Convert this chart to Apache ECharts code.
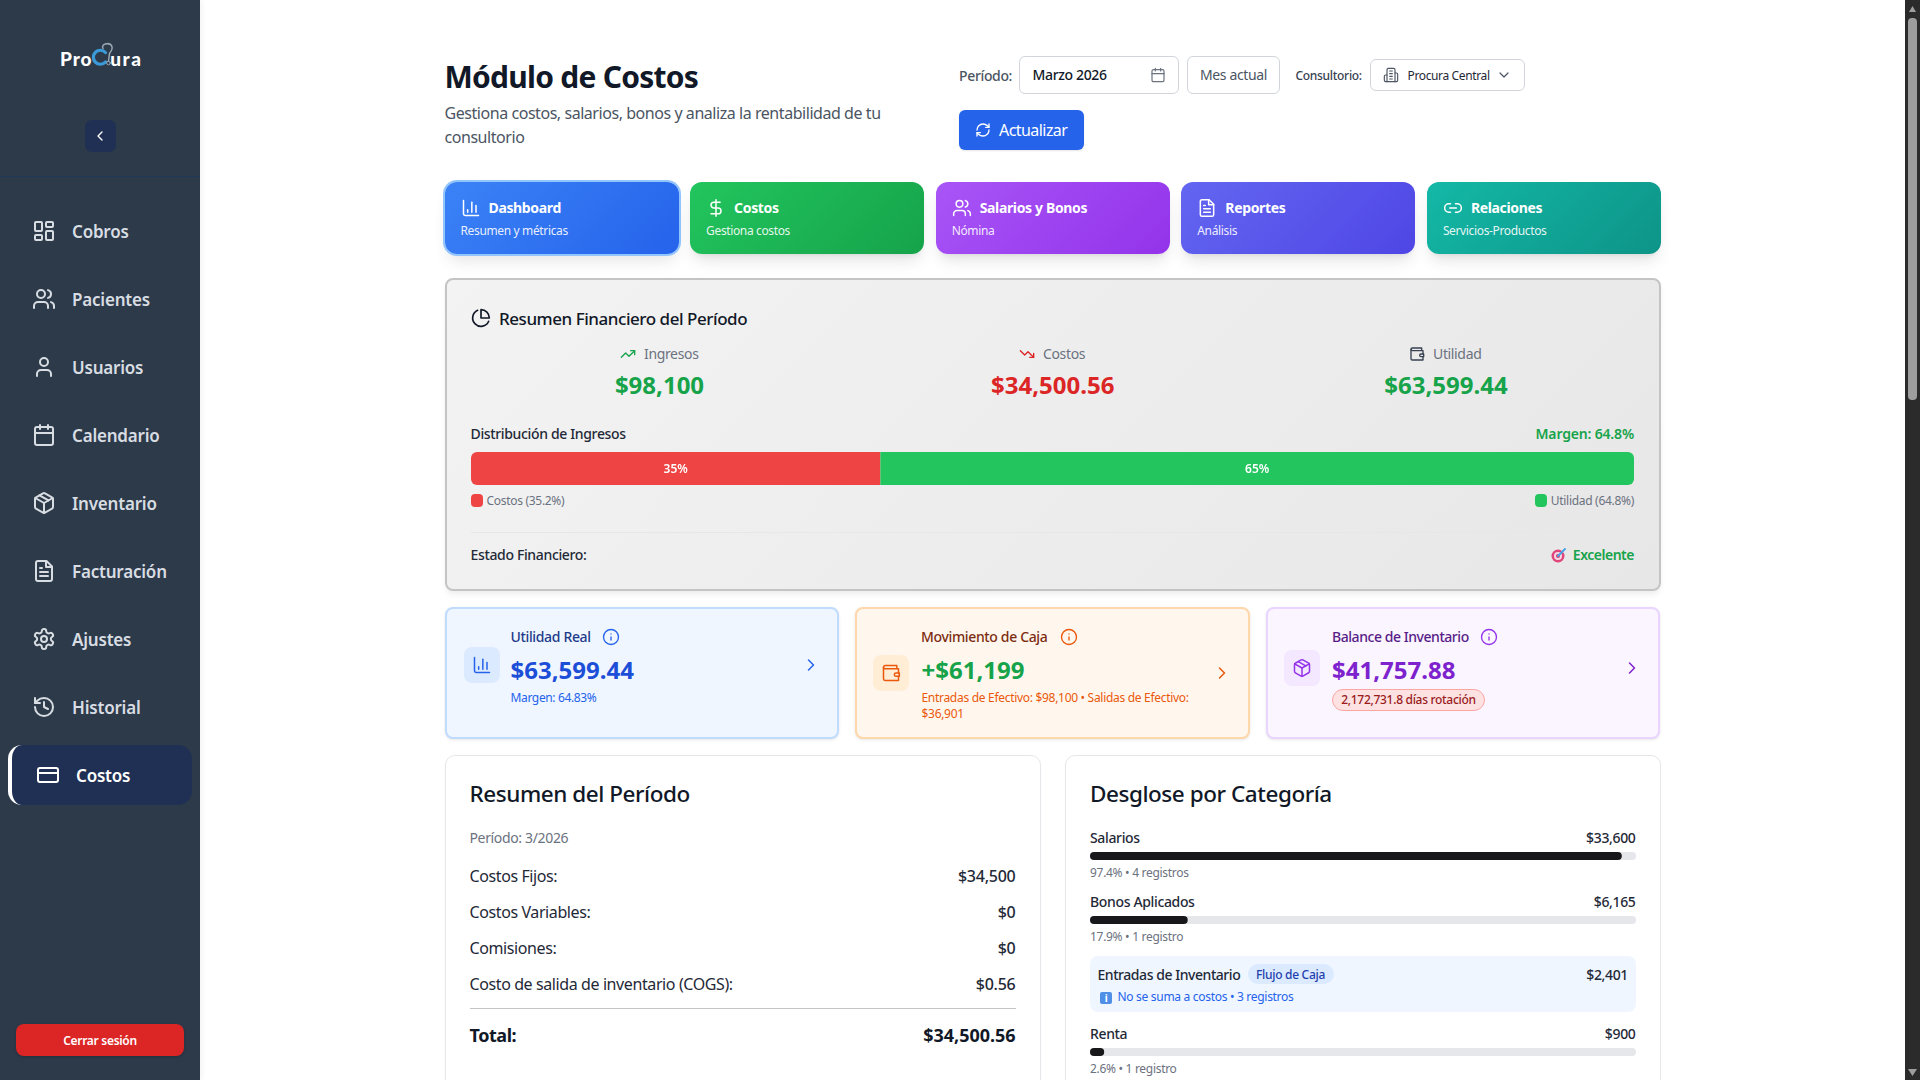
<!DOCTYPE html>
<html lang="es">
<head>
<meta charset="utf-8">
<title>Módulo de Costos</title>
<script src="https://cdn.jsdelivr.net/npm/echarts@6/dist/echarts.min.js"></script>
<style>
html,body{margin:0;padding:0;width:1920px;height:1080px;overflow:hidden;background:#fff;font-family:"Noto Sans",sans-serif;}
#page{position:relative;width:1920px;height:1080px;overflow:hidden;}
.box{position:absolute;box-sizing:border-box;}
.t{position:absolute;white-space:nowrap;line-height:1;letter-spacing:-.025em;transform:translateY(-50%);}
.t.r{transform:translate(-100%,-50%);}
.t.c{transform:translate(-50%,-50%);}
svg.i{position:absolute;fill:none;stroke-linecap:round;stroke-linejoin:round;overflow:visible;}
.tab{border-radius:12px;box-shadow:0 10px 15px -3px rgba(0,0,0,.1),0 4px 6px -4px rgba(0,0,0,.1);}
.kpi{border-radius:8px;border-width:2px;border-style:solid;box-shadow:0 1px 3px rgba(0,0,0,.1);}
.card{background:#fff;border:1.5px solid #e5e7eb;border-radius:10px;box-shadow:0 1px 2px rgba(0,0,0,.04);}
</style>
</head>
<body>
<div id="page"></div>
<script>
var navItems = ["Cobros","Pacientes","Usuarios","Calendario","Inventario","Facturación","Ajustes","Historial"];
var navIcons = ["grid","users","user","calendar","package","file","gear","history"];
var tabTitles = ["Dashboard","Costos","Salarios y Bonos","Reportes","Relaciones"];
var tabSubs = ["Resumen y métricas","Gestiona costos","Nómina","Análisis","Servicios-Productos"];
var tabIcons = ["bars","dollar","users","file","link"];
var tabGradients = [["#3b82f6","#2563eb"],["#22c55e","#16a34a"],["#a855f7","#9333ea"],["#6366f1","#4f46e5"],["#14b8a6","#0d9488"]];
var distLabels = ["Costos","Utilidad"];
var distValues = [35.2,64.8];
var distColors = ["#ef4444","#22c55e"];
var resumenLabels = ["Costos Fijos:","Costos Variables:","Comisiones:","Costo de salida de inventario (COGS):"];
var resumenValues = ["$34,500","$0","$0","$0.56"];
var catLabels = ["Salarios","Bonos Aplicados","Renta"];
var catAmounts = ["$33,600","$6,165","$900"];
var catPercents = [97.4,17.9,2.6];
var catNotes = ["4 registros","1 registro","1 registro"];

var ICONS = {
  grid:'<rect x="3" y="3" width="7" height="9" rx="1"/><rect x="14" y="3" width="7" height="5" rx="1"/><rect x="14" y="12" width="7" height="9" rx="1"/><rect x="3" y="16" width="7" height="5" rx="1"/>',
  users:'<path d="M16 21v-2a4 4 0 0 0-4-4H6a4 4 0 0 0-4 4v2"/><circle cx="9" cy="7" r="4"/><path d="M22 21v-2a4 4 0 0 0-3-3.87"/><path d="M16 3.13a4 4 0 0 1 0 7.75"/>',
  user:'<path d="M19 21v-2a4 4 0 0 0-4-4H9a4 4 0 0 0-4 4v2"/><circle cx="12" cy="7" r="4"/>',
  calendar:'<path d="M8 2v4M16 2v4"/><rect x="3" y="4" width="18" height="18" rx="2"/><path d="M3 10h18"/>',
  package:'<path d="M21 8a2 2 0 0 0-1-1.73l-7-4a2 2 0 0 0-2 0l-7 4A2 2 0 0 0 3 8v8a2 2 0 0 0 1 1.73l7 4a2 2 0 0 0 2 0l7-4A2 2 0 0 0 21 16Z"/><path d="m3.3 7 8.7 5 8.7-5"/><path d="M12 22V12"/><path d="m7.5 4.27 9 5.15"/>',
  file:'<path d="M14.5 2H6a2 2 0 0 0-2 2v16a2 2 0 0 0 2 2h12a2 2 0 0 0 2-2V7.5L14.5 2z"/><path d="M14 2v6h6"/><path d="M16 13H8"/><path d="M16 17H8"/><path d="M10 9H8"/>',
  gear:'<path d="M12.22 2h-.44a2 2 0 0 0-2 2v.18a2 2 0 0 1-1 1.73l-.43.25a2 2 0 0 1-2 0l-.15-.08a2 2 0 0 0-2.73.73l-.22.38a2 2 0 0 0 .73 2.73l.15.1a2 2 0 0 1 1 1.72v.51a2 2 0 0 1-1 1.74l-.15.09a2 2 0 0 0-.73 2.73l.22.38a2 2 0 0 0 2.73.73l.15-.08a2 2 0 0 1 2 0l.43.25a2 2 0 0 1 1 1.73V20a2 2 0 0 0 2 2h.44a2 2 0 0 0 2-2v-.18a2 2 0 0 1 1-1.73l.43-.25a2 2 0 0 1 2 0l.15.08a2 2 0 0 0 2.73-.73l.22-.39a2 2 0 0 0-.73-2.73l-.15-.08a2 2 0 0 1-1-1.74v-.5a2 2 0 0 1 1-1.74l.15-.09a2 2 0 0 0 .73-2.73l-.22-.38a2 2 0 0 0-2.73-.73l-.15.08a2 2 0 0 1-2 0l-.43-.25a2 2 0 0 1-1-1.73V4a2 2 0 0 0-2-2z"/><circle cx="12" cy="12" r="3"/>',
  history:'<path d="M3 12a9 9 0 1 0 9-9 9.75 9.75 0 0 0-6.74 2.74L3 8"/><path d="M3 3v5h5"/><path d="M12 7v5l4 2"/>',
  card:'<rect x="2" y="5" width="20" height="14" rx="2"/><path d="M2 10h20"/>',
  left:'<path d="m15 18-6-6 6-6"/>',
  right:'<path d="m9 18 6-6-6-6"/>',
  down:'<path d="m6 9 6 6 6-6"/>',
  bars:'<path d="M3 3v16a2 2 0 0 0 2 2h16"/><path d="M18 17V9"/><path d="M13 17V5"/><path d="M8 17v-3"/>',
  dollar:'<path d="M12 2v20"/><path d="M17 5H9.5a3.5 3.5 0 0 0 0 7h5a3.5 3.5 0 0 1 0 7H6"/>',
  link:'<path d="M9 17H7A5 5 0 0 1 7 7h2"/><path d="M15 7h2a5 5 0 1 1 0 10h-2"/><path d="M8 12h8"/>',
  refresh:'<path d="M3 12a9 9 0 0 1 9-9 9.75 9.75 0 0 1 6.74 2.74L21 8"/><path d="M21 3v5h-5"/><path d="M21 12a9 9 0 0 1-9 9 9.75 9.75 0 0 1-6.74-2.74L3 16"/><path d="M8 16H3v5"/>',
  building:'<path d="M6 22V4a2 2 0 0 1 2-2h8a2 2 0 0 1 2 2v18Z"/><path d="M6 12H4a2 2 0 0 0-2 2v6a2 2 0 0 0 2 2h2"/><path d="M18 9h2a2 2 0 0 1 2 2v9a2 2 0 0 1-2 2h-2"/><path d="M10 6h4M10 10h4M10 14h4M10 18h4"/>',
  pie:'<path d="M21.21 15.89A10 10 0 1 1 8 2.83"/><path d="M22 12A10 10 0 0 0 12 2v10z"/>',
  up:'<path d="m22 7-8.5 8.5-5-5L2 17"/><path d="M16 7h6v6"/>',
  dn:'<path d="m22 17-8.5-8.5-5 5L2 7"/><path d="M16 17h6v-6"/>',
  wallet:'<path d="M21 12V7H5a2 2 0 0 1 0-4h14v4"/><path d="M3 5v14a2 2 0 0 0 2 2h16v-5"/><path d="M18 12a2 2 0 0 0 0 4h4v-4Z"/>',
  info:'<circle cx="12" cy="12" r="10"/><path d="M12 16v-4"/><path d="M12 8h.01"/>'
};

var page = document.getElementById("page");
// absolute box, left/top/right/bottom in page pixels
function box(x0,y0,x1,y1,css,cls){
  var d = document.createElement("div");
  d.className = "box "+(cls||"");
  d.style.cssText = "left:"+x0+"px;top:"+y0+"px;width:"+(x1-x0)+"px;height:"+(y1-y0)+"px;"+(css||"");
  page.appendChild(d);
  return d;
}
// text with its vertical middle on y
function txt(x,y,s,size,weight,color,align,extra){
  var d = document.createElement("div");
  d.className = "t "+(align||"");
  d.style.cssText = "left:"+x+"px;top:"+y+"px;font-size:"+size+"px;font-weight:"+weight+";color:"+color+";"+(extra||"");
  d.textContent = s;
  page.appendChild(d);
  return d;
}
function icon(name,cx,cy,size,color,sw){
  var w = document.createElement("div");
  w.innerHTML = '<svg class="i" viewBox="0 0 24 24" width="'+size+'" height="'+size+'" stroke="'+color+'" stroke-width="'+(sw||2)+'" style="left:'+(cx-size/2)+'px;top:'+(cy-size/2)+'px">'+ICONS[name]+'</svg>';
  page.appendChild(w.firstChild);
}
function rawSvg(x,y,w,h,body){
  var d = document.createElement("div");
  d.innerHTML = '<svg class="i" viewBox="0 0 '+w+' '+h+'" width="'+w+'" height="'+h+'" style="left:'+x+'px;top:'+y+'px">'+body+'</svg>';
  page.appendChild(d.firstChild);
}
var NUM = "letter-spacing:0;";

// sidebar
box(0,0,200,1080,"background:#2c3a49;box-shadow:2px 0 6px rgba(0,0,0,.05);");
txt(60,58,"Pro",19,900,"#fff","","font-family:Lato;letter-spacing:.9px;");
txt(142.5,58,"ura",19,900,"#fff","r","font-family:Lato;letter-spacing:1.6px;");
rawSvg(88,41,28,28,
  '<path d="M17.5 11.5A7 7 0 1 0 17.5 21" stroke="#3b9bd9" stroke-width="3.2"/>'+
  '<path d="M15 7.5C12.5 3 21 1 23.5 4.5C25 7 23.5 10 21.5 12.5L20.5 20" stroke="#9aa8b4" stroke-width="1.5"/>'+
  '<circle cx="20.5" cy="22" r="1.8" stroke="#9aa8b4" stroke-width="1"/>');
box(84.5,120,115.5,152,"background:#1f3054;border-radius:7px;");
icon("left",100,136,16,"#fff",2);
box(0,176,200,177,"background:#223858;");
navItems.forEach(function(name,i){
  var y = 230.7 + i*68;
  icon(navIcons[i],44,y,24,"#d8dde3",2);
  txt(72,y,name,17,600,"#d8dde3","","letter-spacing:-.012em;");
});
box(8,745,192,805,"background:#1f3054;border-radius:14px;border-left:4px solid #fff;");
icon("card",48,775,24,"#fff",2);
txt(76,775,"Costos",17,600,"#fff","","letter-spacing:-.012em;");
box(16,1024,184,1056,"background:#dc2626;border-radius:8px;box-shadow:0 1px 3px rgba(0,0,0,.2);");
txt(100,1041,"Cerrar sesión",12,600,"#fff","c");

// header
txt(444.5,76.5,"Módulo de Costos",30,700,"#111827");
txt(444.5,113,"Gestiona costos, salarios, bonos y analiza la rentabilidad de tu",16,400,"#4b5563","","letter-spacing:-.028em;");
txt(444.5,137,"consultorio",16,400,"#4b5563","","letter-spacing:-.028em;");
txt(959,75.5,"Período:",14,500,"#4b5563");
box(1019,56,1179,94,"background:#fff;border:1px solid #d1d5db;border-radius:6px;");
txt(1032.5,75,"Marzo 2026",14,500,"#111827");
icon("calendar",1158,75,16,"#6b7280",1.8);
box(1187,56,1280,94,"background:#fff;border:1px solid #d1d5db;border-radius:6px;");
txt(1233.5,75,"Mes actual",14,400,"#4b5563","c");
txt(1295.5,75.5,"Consultorio:",12,500,"#374151");
box(1370,59,1525,91,"background:#fff;border:1px solid #d1d5db;border-radius:6px;");
icon("building",1390.5,75,16,"#4b5563",1.7);
txt(1407.5,75.5,"Procura Central",12,400,"#1f2937","","letter-spacing:-.03em;");
icon("down",1504,75,16,"#4b5563",1.8);
box(959,110,1084,150,"background:#2563eb;border-radius:6px;box-shadow:0 1px 2px rgba(0,0,0,.1);");
icon("refresh",982.5,130,16,"#fff",2);
txt(999,130,"Actualizar",16,400,"#fff","","letter-spacing:-.035em;");

// module tabs
tabTitles.forEach(function(title,i){
  var x = 444.5 + i*245.6;
  var g = tabGradients[i];
  var ring = i===0 ? "box-shadow:0 0 0 2px #93c5fd,0 10px 15px -3px rgba(0,0,0,.1);" : "";
  box(x,182,x+234,254,"background:linear-gradient(135deg,"+g[0]+","+g[1]+");"+ring,"tab");
  icon(tabIcons[i],x+26,208,20,"#fff",1.8);
  txt(x+44,208,title,14,700,"#fff");
  txt(x+16,231,tabSubs[i],12,400,"rgba(255,255,255,.9)","","letter-spacing:-.03em;");
});

// financial summary
box(445,278,1660.5,591,"background:linear-gradient(135deg,#f3f3f3,#e7e7e7);border:2px solid #c4c4c4;border-radius:8px;box-shadow:0 4px 6px -1px rgba(0,0,0,.08);");
icon("pie",481,318,20,"#111827",2);
txt(499,318,"Resumen Financiero del Período",17,500,"#111827","","letter-spacing:-.027em;");
icon("up",628,354,16,"#16a34a",2);
txt(644,354,"Ingresos",14,400,"#6b7280");
txt(659.5,385.2,"$98,100",24,700,"#16a34a","c",NUM);
icon("dn",1027,354,16,"#dc2626",2);
txt(1043,354,"Costos",14,400,"#6b7280");
txt(1052.8,385.2,"$34,500.56",24,700,"#dc2626","c",NUM);
icon("wallet",1417,354,16,"#374151",2);
txt(1433,354,"Utilidad",14,400,"#6b7280");
txt(1446,385.2,"$63,599.44",24,700,"#16a34a","c",NUM);
txt(470.5,434,"Distribución de Ingresos",14,500,"#1f2937");
txt(1634,434,"Margen: 64.8%",14,600,"#16a34a","r","letter-spacing:-.012em;");
var distEl = box(471,452,1634,484.5,"");
box(471,494,483,506.5,"background:"+distColors[0]+";border-radius:4px;");
txt(486.5,500.6,distLabels[0]+" ("+distValues[0]+"%)",12,400,"#6b7280");
box(1535,494,1547,506.5,"background:"+distColors[1]+";border-radius:4px;");
txt(1634,500.6,distLabels[1]+" ("+distValues[1]+"%)",12,400,"#6b7280","r");
box(471,532,1634,533,"background:#e5e7eb;");
txt(470.5,555,"Estado Financiero:",14,500,"#1f2937");
txt(1634,555,"Excelente",14,600,"#16a34a","r","letter-spacing:-.035em;");
rawSvg(1551,547,16,16,'<circle cx="7" cy="9" r="6.5" fill="#e0457b"/><circle cx="7" cy="9" r="4" fill="#f7d9e4"/><circle cx="7" cy="9" r="2" fill="#d6336c"/><path d="M7 9 14 2" stroke="#4aa3e8" stroke-width="2"/>');

// kpi cards
box(445,607,838.5,739,"background:#eff6ff;border-color:#bfdbfe;","kpi");
box(463.5,647,499.5,683,"background:#dbeafe;border-radius:8px;");
icon("bars",481.5,665,20,"#2563eb",1.8);
txt(510.5,637,"Utilidad Real",14,500,"#1e3a8a");
icon("info",610.5,637,18,"#2563eb",1.8);
txt(510.5,670,"$63,599.44",24,700,"#1d4ed8","",NUM);
txt(510.5,698,"Margen: 64.83%",12,400,"#2563eb","","letter-spacing:-.03em;");
icon("right",810.5,665,20,"#2563eb",1.8);

box(855,607,1250,739,"background:#fff7ed;border-color:#fed7aa;","kpi");
box(873,655,909,691,"background:#ffedd5;border-radius:8px;");
icon("wallet",891,673,20,"#ea580c",1.8);
txt(921,637,"Movimiento de Caja",14,500,"#7c2d12");
icon("info",1068.5,637,18,"#ea580c",1.8);
txt(921.5,670,"+$61,199",24,700,"#16a34a","",NUM);
txt(921.5,698,"Entradas de Efectivo: $98,100 • Salidas de Efectivo:",12,400,"#ea580c");
txt(921.5,714,"$36,901",12,400,"#ea580c");
icon("right",1222,673,20,"#ea580c",1.8);

box(1266,607,1660,739,"background:#faf5ff;border-color:#e9d5ff;","kpi");
box(1284,650,1320,686,"background:#f3e8ff;border-radius:8px;");
icon("package",1302,668,20,"#9333ea",1.8);
txt(1332,637,"Balance de Inventario",14,500,"#581c87","","letter-spacing:-.032em;");
icon("info",1489,637,18,"#9333ea",1.8);
txt(1332,670,"$41,757.88",24,700,"#7e22ce","",NUM);
box(1332,689,1485,711,"background:#fee2e2;border:1px solid #fca5a5;border-radius:11px;");
txt(1408.5,700,"2,172,731.8 días rotación",12,500,"#991b1b","c");
icon("right",1631.5,668,20,"#7e22ce",1.8);

// bottom left card
box(445,755,1040.5,1100,"","card");
txt(469.5,793.5,"Resumen del Período",22.5,500,"#111827","","letter-spacing:-.02em;");
txt(469.5,838,"Período: 3/2026",14,400,"#6b7280");
resumenLabels.forEach(function(label,i){
  var y = 875.8 + i*36;
  txt(469.5,y,label,16,400,"#1f2937");
  txt(1015.5,y,resumenValues[i],16,500,"#1f2937","r","letter-spacing:-.015em;");
});
box(470,1008,1016,1009,"background:#c4c4c4;");
txt(469.5,1034.8,"Total:",18,700,"#111827");
txt(1015.5,1034.8,"$34,500.56",18,700,"#111827","r","letter-spacing:-.002em;");

// bottom right card
box(1065,755,1660.5,1100,"","card");
txt(1090,793.5,"Desglose por Categoría",22.5,500,"#111827","","letter-spacing:-.02em;");
var catRows = [838,902,1034];
catLabels.forEach(function(label,i){
  var y = catRows[i];
  txt(1090,y,label,14,500,"#1f2937");
  txt(1635.5,y,catAmounts[i],14,500,"#1f2937","r");
  txt(1090,y+35,catPercents[i]+"% • "+catNotes[i],12,400,"#6b7280");
});
box(1090,956,1636,1012,"background:#eff6ff;border-radius:8px;");
txt(1097.5,975,"Entradas de Inventario",14,500,"#1f2937","","letter-spacing:-.032em;");
box(1248,964,1333.5,984,"background:#dbeafe;border-radius:10px;");
txt(1290.5,974.5,"Flujo de Caja",12,500,"#1e40af","c");
txt(1628,975,"$2,401",14,500,"#1f2937","r");
box(1100,992,1112,1004,"background:#4f8fe8;border-radius:2px;");
txt(1106,998,"i",10,700,"#fff","c");
txt(1117.5,997,"No se suma a costos • 3 registros",12,400,"#2563eb");
var catEl = box(1090,852,1636,1056,"");

// scrollbar
box(1905,0,1920,1080,"background:#2b2b2b;");
box(1908,18,1917,400,"background:#9e9e9e;border-radius:4px;");
box(1909,6,1916,12,"background:#9e9e9e;clip-path:polygon(50% 0,100% 100%,0 100%);");
box(1908,1069,1917,1076,"background:#9e9e9e;clip-path:polygon(0 0,100% 0,50% 100%);");

// distribution bar, value axis 0..100
var distChart = echarts.init(distEl);
distChart.setOption({
  animation:false,
  grid:{left:0,right:0,top:0,bottom:0},
  xAxis:{type:"value",min:0,max:100,show:false},
  yAxis:{type:"category",data:["Ingresos"],show:false},
  series:distLabels.map(function(name,i){
    return {
      type:"bar",name:name,stack:"total",barWidth:"100%",
      data:[distValues[i]],
      itemStyle:{color:distColors[i],borderRadius:i===0?[6,0,0,6]:[0,6,6,0]},
      label:{show:true,position:"inside",offset:[0,1],color:"#fff",fontSize:12,fontWeight:600,fontFamily:"Noto Sans",
        formatter:function(p){return Math.round(p.value)+"%";}}
    };
  })
});

// category progress bars, one grid per row
var barTops = [0,64,196];
var catChart = echarts.init(catEl);
catChart.setOption({
  animation:false,
  grid:barTops.map(function(t){return {left:0,right:0,top:t,height:8};}),
  xAxis:barTops.map(function(t,i){return {type:"value",gridIndex:i,min:0,max:100,show:false};}),
  yAxis:barTops.map(function(t,i){return {type:"category",gridIndex:i,data:[catLabels[i]],show:false};}),
  series:catPercents.map(function(v,i){
    return {
      type:"bar",name:catLabels[i],xAxisIndex:i,yAxisIndex:i,barWidth:8,
      data:[v],
      showBackground:true,
      backgroundStyle:{color:"#e5e7eb",borderRadius:4},
      itemStyle:{color:"#18181b",borderRadius:4}
    };
  })
});
</script>
</body>
</html>
